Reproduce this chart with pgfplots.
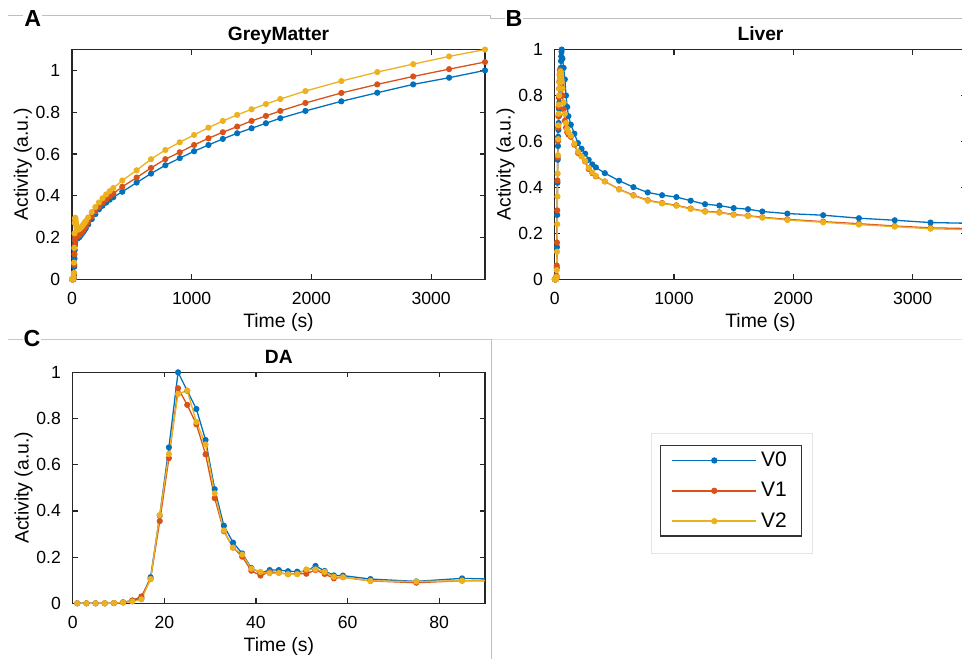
\documentclass[border=0pt]{standalone}
\usepackage{fontspec}
\setmainfont{Liberation Sans}
\usepackage{pgfplots}
\pgfplotsset{compat=1.18}
\usepackage{pgfplotstable}
\definecolor{c0}{rgb}{0,0.447,0.741}
\definecolor{c1}{rgb}{0.85,0.325,0.098}
\definecolor{c2}{rgb}{0.929,0.694,0.125}

\pgfplotstableread{
t b r y
1 0 0 0
3 0 0 0
5 0 0 0
7 0 0 0
9 0 0 0
11 0 0 0.002
13 0.002 0.003 0.01
15 0.005 0.01 0.03
17 0.02 0.03 0.08
19 0.06 0.07 0.15
21 0.10 0.12 0.22
23 0.14 0.16 0.27
25 0.165 0.185 0.29
27 0.18 0.198 0.295
29 0.19 0.205 0.29
31 0.193 0.208 0.28
33 0.195 0.209 0.27
35 0.196 0.209 0.262
37 0.197 0.209 0.255
39 0.197 0.209 0.25
41 0.197 0.209 0.246
43 0.197 0.209 0.243
45 0.198 0.209 0.241
47 0.198 0.209 0.240
49 0.199 0.21 0.239
51 0.199 0.21 0.239
53 0.2 0.21 0.239
55 0.2 0.21 0.24
57 0.201 0.211 0.24
59 0.201 0.211 0.241
65 0.205 0.214 0.243
75 0.212 0.22 0.248
85 0.22 0.228 0.255
95 0.228 0.237 0.263
105 0.236 0.246 0.271
115 0.244 0.255 0.279
135 0.262 0.274 0.296
165 0.288 0.30 0.322
195 0.312 0.325 0.346
225 0.335 0.347 0.368
255 0.352 0.366 0.388
285 0.367 0.382 0.406
315 0.381 0.397 0.422
345 0.393 0.41 0.437
420 0.419 0.443 0.473
540 0.463 0.487 0.522
660 0.506 0.533 0.575
780 0.546 0.575 0.619
900 0.580 0.608 0.656
1020 0.613 0.643 0.691
1140 0.643 0.675 0.726
1260 0.672 0.704 0.758
1380 0.699 0.731 0.787
1500 0.723 0.758 0.814
1620 0.747 0.782 0.839
1740 0.771 0.806 0.863
1950 0.806 0.844 0.901
2250 0.852 0.892 0.949
2550 0.893 0.933 0.992
2850 0.933 0.971 1.030
3150 0.965 1.006 1.067
3450 1.0 1.040 1.100
}\gmtable

\pgfplotstableread{
t b r y
1 0 0 0
3 0 0 0
5 0 0 0
7 0 0 0
9 0 0 0
11 0 0.002 0
13 0.003 0.005 0.003
15 0.01 0.015 0.01
17 0.05 0.06 0.04
19 0.14 0.16 0.12
21 0.28 0.30 0.24
23 0.42 0.43 0.36
25 0.52 0.53 0.46
27 0.58 0.60 0.54
29 0.62 0.66 0.61
31 0.65 0.71 0.67
33 0.68 0.75 0.72
35 0.71 0.79 0.76
37 0.74 0.83 0.80
39 0.77 0.86 0.83
41 0.80 0.89 0.855
43 0.83 0.91 0.875
45 0.86 0.90 0.89
47 0.88 0.89 0.90
49 0.90 0.88 0.905
51 0.92 0.87 0.90
53 0.95 0.86 0.89
55 0.97 0.85 0.88
57 0.99 0.84 0.87
59 1.0 0.83 0.86
65 0.96 0.80 0.83
75 0.92 0.74 0.77
85 0.87 0.69 0.72
95 0.80 0.66 0.68
105 0.75 0.64 0.655
115 0.71 0.63 0.64
135 0.673 0.62 0.625
165 0.634 0.586 0.59
195 0.593 0.55 0.555
225 0.568 0.535 0.535
255 0.547 0.513 0.515
285 0.52 0.48 0.485
315 0.50 0.462 0.465
345 0.487 0.448 0.45
420 0.462 0.426 0.426
540 0.429 0.392 0.391
660 0.401 0.366 0.364
780 0.378 0.344 0.342
900 0.366 0.332 0.330
1020 0.358 0.322 0.320
1140 0.342 0.308 0.306
1260 0.327 0.296 0.294
1380 0.321 0.292 0.290
1500 0.310 0.282 0.280
1620 0.305 0.277 0.275
1740 0.295 0.270 0.268
1950 0.286 0.261 0.258
2250 0.279 0.251 0.248
2550 0.266 0.242 0.238
2850 0.257 0.232 0.229
3150 0.247 0.224 0.220
3450 0.244 0.221 0.216
}\livertable

\pgfplotstableread{
t b r y
1 0 0 0
3 0 0 0
5 0 0 0
7 0 0 0
9 0.001 0.001 0.001
11 0.004 0.004 0.003
13 0.012 0.012 0.008
15 0.022 0.03 0.017
17 0.113 0.105 0.105
19 0.38 0.356 0.382
21 0.675 0.628 0.646
23 1.0 0.931 0.906
25 0.92 0.859 0.921
27 0.841 0.775 0.785
29 0.707 0.645 0.688
31 0.494 0.455 0.476
33 0.336 0.312 0.315
35 0.263 0.241 0.241
37 0.216 0.202 0.211
39 0.153 0.141 0.150
41 0.132 0.120 0.136
43 0.144 0.136 0.130
45 0.144 0.133 0.131
47 0.139 0.126 0.126
49 0.137 0.128 0.126
51 0.139 0.128 0.147
53 0.162 0.144 0.147
55 0.140 0.127 0.136
57 0.121 0.108 0.115
59 0.120 0.113 0.113
65 0.105 0.097 0.097
75 0.095 0.089 0.094
85 0.108 0.098 0.098
95 0.103 0.097 0.097
}\datable

\pgfplotsset{
  mstyle/.style={
    scale only axis,
    axis line style={draw=black!85, line width=0.6pt},
    tick align=inside, major tick length=2.5pt,
    tick style={black!85, line width=0.6pt},
    ticklabel style={font=\fontsize{8.8}{10}\selectfont},
    xticklabel style={yshift=-3pt},
    yticklabel style={xshift=-2.4pt},
    /pgf/number format/assume math mode=true,
    /pgf/number format/set thousands separator={},
    label style={font=\fontsize{9.7}{11}\selectfont},
    xlabel style={yshift=2.8pt},
    ylabel style={yshift=-5pt},
    every axis title/.style={font=\bfseries\fontsize{9.6}{11}\selectfont,
      at={(0.5,1)}, anchor=base, yshift=4.6pt},
    every axis plot/.append style={line width=0.65pt, mark=*, mark size=1.2pt},
    xlabel={Time (s)}, ylabel={Activity (a.u.)},
    ytick={0,0.2,0.4,0.6,0.8,1},
    ymin=0,
  }
}

\begin{document}
\begin{tikzpicture}
\useasboundingbox (0,0) rectangle (481pt,-329.5pt);
% light frame lines of the exported figure
\draw[black!25, line width=0.5pt] (4.15pt,-7.85pt) -- (245.35pt,-7.85pt) -- (245.35pt,-9.15pt) -- (481pt,-9.15pt);
\draw[black!22, line width=0.5pt] (4.15pt,-169.5pt) -- (245.85pt,-169.5pt);
\draw[black!10, line width=0.5pt] (245.85pt,-169.5pt) -- (481pt,-169.5pt);
\draw[black!25, line width=0.5pt] (245.85pt,-169.5pt) -- (245.85pt,-329.5pt);
\draw[black!10, line width=0.5pt] (325.5pt,-216.5pt) rectangle (406.3pt,-276.5pt);

% A
\begin{axis}[mstyle, at={(36pt,-139.65pt)}, anchor=south west,
  width=206.5pt, height=114.9pt,
  xmin=0, xmax=3450, ymax=1.1, clip=false,
  xtick={0,1000,2000,3000},
  title={GreyMatter}]
\addplot[c0] table[x=t,y=b] {\gmtable};
\addplot[c1] table[x=t,y=r] {\gmtable};
\addplot[c2] table[x=t,y=y] {\gmtable};
\end{axis}

% B
\begin{axis}[mstyle, at={(277.35pt,-139.65pt)}, anchor=south west,
  width=205.8pt, height=114.9pt,
  xmin=0, xmax=3450, ymax=1, clip=false,
  xtick={0,1000,2000,3000},
  title={Liver}]
\addplot[c0] table[x=t,y=b] {\livertable};
\addplot[c1] table[x=t,y=r] {\livertable};
\addplot[c2] table[x=t,y=y] {\livertable};
\end{axis}

% C
\begin{axis}[mstyle, at={(36.35pt,-301.65pt)}, anchor=south west,
  width=206.15pt, height=115.5pt,
  xmin=0, xmax=90, ymax=1,
  xtick={0,20,40,60,80},
  title={DA},
  legend style={at={(1.597,0.487)}, anchor=center, draw=black!80,
    line width=0.6pt, fill=white, font=\fontsize{10.5}{12}\selectfont,
    row sep=2.4pt, inner xsep=5.5pt, inner ysep=1pt},
  legend cell align=left,
  legend image code/.code={\draw[line width=0.75pt, mark repeat=2,mark phase=2] plot coordinates {(0pt,0pt) (21pt,0pt) (42pt,0pt)};}]
\addplot[c0] table[x=t,y=b] {\datable};
\addplot[c1] table[x=t,y=r] {\datable};
\addplot[c2] table[x=t,y=y] {\datable};
\legend{V0,V1,V2}
\end{axis}

\node[font=\bfseries\fontsize{11.6}{13}\selectfont, fill=white, inner sep=0.5pt] at (16.35pt,-9.15pt) {A};
\node[font=\bfseries\fontsize{11.6}{13}\selectfont, fill=white, inner sep=0.5pt] at (257pt,-9.15pt) {B};
\node[font=\bfseries\fontsize{11.6}{13}\selectfont, fill=white, inner sep=0.5pt] at (16pt,-169.5pt) {C};
\end{tikzpicture}
\end{document}
